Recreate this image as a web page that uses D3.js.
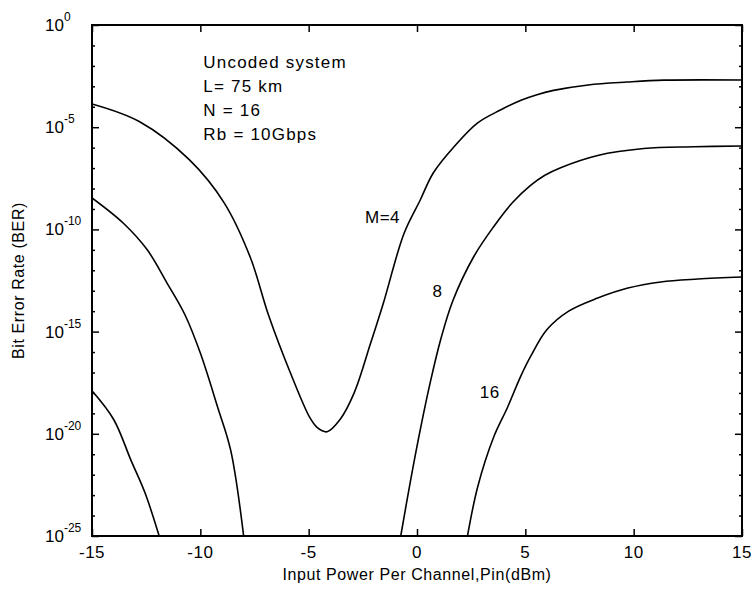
<!DOCTYPE html>
<html>
<head>
<meta charset="utf-8">
<script src="https://cdn.jsdelivr.net/npm/d3@7"></script>
<style>
  html, body { margin: 0; padding: 0; background: #fff; }
  svg { display: block; font-family: "Liberation Sans", Arial, Helvetica, sans-serif; }
</style>
</head>
<body>
<svg id="chart" width="752" height="592"></svg>
<script>
// Input power per channel (dBm) and bit error rate for each modulation order M.
// Curves that fall below 1e-25 are stored as two visible pieces.
const pin4 = [-15, -12.8, -10.5, -8.9, -7.7, -6.85, -5.85, -4.95, -4.6, -4.15, -3.55, -2.9, -2.15, -1.55, -0.6, 0.15, 0.75, 1.7, 2.8, 3.85, 4.8, 5.5, 6.3, 7.9, 9.7, 11.4, 15];
const ber4 = [1.38e-4, 1.86e-5, 2.51e-7, 2.0e-9, 4.47e-12, 6.31e-15, 1.0e-17, 6.31e-20, 2.0e-20, 1.26e-20, 5.01e-20, 1.0e-18, 2.51e-16, 2.51e-14, 6.31e-11, 2.75e-9, 5.75e-8, 1.07e-6, 1.62e-5, 6.92e-5, 2.09e-4, 3.8e-4, 6.31e-4, 1.17e-3, 1.62e-3, 2.0e-3, 2.04e-3];

const pin8a = [-15, -13.55, -12.45, -11.55, -10.7, -10.0, -9.2, -8.6, -8.0];
const ber8a = [3.47e-9, 2.0e-10, 1.0e-11, 2.51e-13, 6.31e-15, 8.91e-17, 2.0e-19, 1.58e-21, 1e-25];
const pin8b = [-0.75, -0.3, 0.17, 0.63, 1.09, 1.65, 2.61, 3.53, 4.4, 5.24, 5.9, 6.63, 8.34, 10.47, 12.78, 15];
const ber8b = [1e-25, 5.01e-23, 2.0e-20, 3.98e-18, 3.98e-16, 3.16e-14, 4.47e-12, 1.32e-10, 2.0e-9, 1.41e-8, 4.47e-8, 1.05e-7, 4.17e-7, 9.12e-7, 1.1e-6, 1.2e-6];

const pin16a = [-15, -14.0, -13.2, -12.55, -11.9];
const ber16a = [1.26e-18, 5.01e-20, 5.01e-22, 1.26e-23, 1e-25];
const pin16b = [2.33, 2.8, 3.54, 4.18, 4.78, 5.25, 6.0, 7.0, 8.34, 9.73, 11.25, 12.96, 15];
const ber16b = [1e-25, 2.51e-23, 6.92e-21, 2.0e-19, 6.31e-18, 6.31e-17, 1.26e-15, 1.0e-14, 4.37e-14, 1.35e-13, 2.69e-13, 3.72e-13, 4.68e-13];

const xTicks = [-15, -10, -5, 0, 5, 10, 15];
const yExponents = [0, -5, -10, -15, -20, -25];

const curveLabels = ["M=4", "8", "16"];
const labelPin = [-2.4, 0.72, 2.9];
const labelBer = [2e-10, 5e-14, 5.6e-19];

const notes = ["Uncoded system", "L= 75 km", "N = 16", "Rb = 10Gbps"];

const xTitle = "Input Power Per Channel,Pin(dBm)";
const yTitle = "Bit Error Rate (BER)";

// ---- layout ----
const svg = d3.select("#chart");
const m = { left: 92, top: 25, right: 10, bottom: 56 };
const W = 752 - m.left - m.right;
const H = 592 - m.top - m.bottom;

const x = d3.scaleLinear().domain([-15, 15]).range([0, W]);
const y = d3.scaleLog().domain([1e-25, 1]).range([H, 0]);

const g = svg.append("g").attr("transform", `translate(${m.left},${m.top})`);

g.append("clipPath").attr("id", "plotClip")
  .append("rect").attr("width", W).attr("height", H);

// ---- curves ----
const line = d3.line()
  .x(d => x(d[0]))
  .y(d => y(d[1]))
  .curve(d3.curveCatmullRom.alpha(0.5));

const series = [
  [pin4, ber4], [pin8a, ber8a], [pin8b, ber8b], [pin16a, ber16a], [pin16b, ber16b]
];
const curves = g.append("g").attr("clip-path", "url(#plotClip)");
series.forEach(([px, py]) => {
  curves.append("path")
    .datum(px.map((v, i) => [v, py[i]]))
    .attr("d", line)
    .attr("fill", "none")
    .attr("stroke", "#000")
    .attr("stroke-width", 1.6)
    .attr("stroke-linejoin", "round");
});

// ---- axes (ticks point inward, box style) ----
const majorY = yExponents.map(e => Math.pow(10, e));
const minorY = d3.range(-24, 0).filter(e => e % 5 !== 0).map(e => Math.pow(10, e));

function styleAxis(sel) {
  sel.select(".domain").remove();
  sel.selectAll(".tick line").attr("stroke", "#000").attr("stroke-width", 1.5);
  sel.selectAll(".tick text").remove();
}

g.append("g").attr("transform", `translate(0,${H})`)
  .call(d3.axisBottom(x).tickValues(xTicks).tickSize(-7)).call(styleAxis);
g.append("g")
  .call(d3.axisTop(x).tickValues(xTicks).tickSize(-7)).call(styleAxis);
g.append("g")
  .call(d3.axisLeft(y).tickValues(majorY).tickSize(-7)).call(styleAxis);
g.append("g").attr("transform", `translate(${W},0)`)
  .call(d3.axisRight(y).tickValues(majorY).tickSize(-7)).call(styleAxis);
g.append("g")
  .call(d3.axisLeft(y).tickValues(minorY).tickSize(-3)).call(styleAxis);
g.append("g").attr("transform", `translate(${W},0)`)
  .call(d3.axisRight(y).tickValues(minorY).tickSize(-3)).call(styleAxis);

// plot frame
g.append("rect")
  .attr("width", W).attr("height", H)
  .attr("fill", "none").attr("stroke", "#000").attr("stroke-width", 2);

// ---- tick labels ----
const fs = 17;
g.append("g").selectAll("text").data(xTicks).join("text")
  .attr("x", d => x(d))
  .attr("y", H + 22)
  .attr("text-anchor", "middle")
  .attr("font-size", fs)
  .attr("letter-spacing", 0.5)
  .text(d => d);

const yLab = g.append("g").selectAll("text").data(yExponents).join("text")
  .attr("x", -47)
  .attr("y", d => y(Math.pow(10, d)) + 6)
  .attr("font-size", fs);
yLab.append("tspan").text("10");
yLab.append("tspan")
  .attr("dy", -10)
  .attr("font-size", 12)
  .text(d => d);

// ---- axis titles ----
svg.append("text")
  .attr("x", m.left + W / 2)
  .attr("y", 580)
  .attr("text-anchor", "middle")
  .attr("font-size", 16)
  .attr("letter-spacing", 0.6)
  .text(xTitle);

svg.append("text")
  .attr("transform", `translate(24,${m.top + H / 2}) rotate(-90)`)
  .attr("text-anchor", "middle")
  .attr("font-size", 16)
  .attr("letter-spacing", 0.6)
  .text(yTitle);

// ---- annotations ----
g.append("g").selectAll("text").data(notes).join("text")
  .attr("x", x(-9.86))
  .attr("y", (d, i) => 43 + i * 24)
  .attr("font-size", fs)
  .attr("letter-spacing", 1.2)
  .text(d => d);

g.append("g").selectAll("text").data(curveLabels).join("text")
  .attr("x", (d, i) => x(labelPin[i]))
  .attr("y", (d, i) => y(labelBer[i]))
  .attr("font-size", fs)
  .attr("letter-spacing", 0.5)
  .text(d => d);
</script>
</body>
</html>
